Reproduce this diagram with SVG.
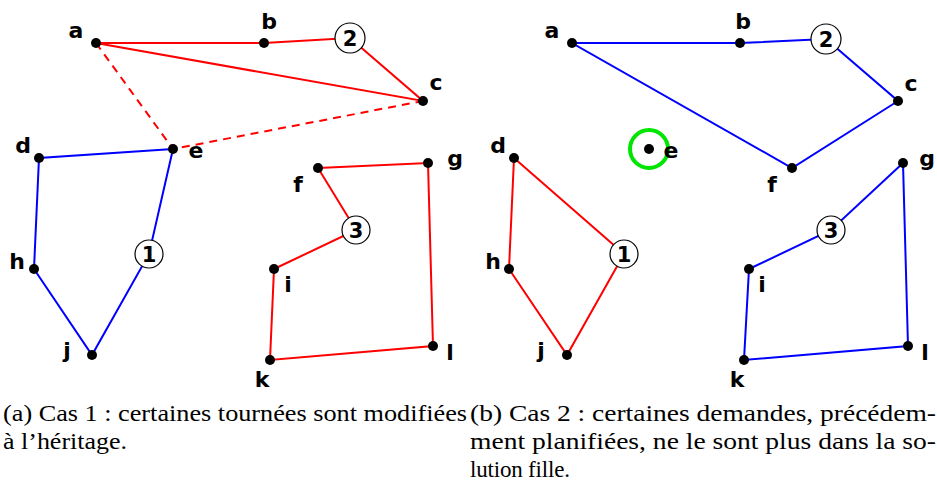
<svg xmlns="http://www.w3.org/2000/svg" width="937" height="488" viewBox="0 0 937 488">
<style>
.r{stroke:#ff0000;stroke-width:2;fill:none}
.b{stroke:#0000ff;stroke-width:2;fill:none}
.d{stroke-dasharray:8 6}
.dot{fill:#000}
.lb{font-family:"DejaVu Sans",sans-serif;font-weight:bold;font-size:22px;fill:#000;text-anchor:middle}
.num circle{fill:#fff;stroke:#000;stroke-width:1.2}
.num text{font-family:"DejaVu Sans",sans-serif;font-weight:bold;font-size:21px;fill:#000;text-anchor:middle}
.cap{font-family:"Liberation Serif","Times New Roman",serif;font-size:23px;fill:#000}
</style>
<rect width="937" height="488" fill="#fff"/>
<g id="connectors">
<polyline class="r" points="96,43 264,43 350,38 423,101 96,43"/>
<polyline class="r d" points="96,43 173,149 423,101"/>
<polyline class="b" points="173,149 39,158 34,269 92,355 149,254 173,149"/>
<polygon class="r" points="318,168 428,163 433,346 270,360 274,269 356,230"/>
<polygon class="b" points="572,43 740,43 826,39 898,101 792,168"/>
<polygon class="r" points="514,158 624,254 567,355 509,269"/>
<polygon class="b" points="903,163 831,230 749,269 744,360 908,346"/>
</g>
<g id="left-a"><circle class="dot" cx="96" cy="43" r="5"/><text class="lb" x="76" y="38">a</text></g>
<g id="left-b"><circle class="dot" cx="264" cy="43" r="5"/><text class="lb" x="269" y="29">b</text></g>
<g id="left-c"><circle class="dot" cx="423" cy="101" r="5"/><text class="lb" x="436" y="90">c</text></g>
<g id="left-d"><circle class="dot" cx="39" cy="158" r="5"/><text class="lb" x="23" y="153">d</text></g>
<g id="left-e"><circle class="dot" cx="173" cy="149" r="5"/><text class="lb" x="196" y="158">e</text></g>
<g id="left-f"><circle class="dot" cx="318" cy="168" r="5"/><text class="lb" x="298" y="192">f</text></g>
<g id="left-g"><circle class="dot" cx="428" cy="163" r="5"/><text class="lb" x="455" y="166">g</text></g>
<g id="left-h"><circle class="dot" cx="34" cy="269" r="5"/><text class="lb" x="17" y="269">h</text></g>
<g id="left-i"><circle class="dot" cx="274" cy="269" r="5"/><text class="lb" x="288" y="292">i</text></g>
<g id="left-j"><circle class="dot" cx="92" cy="355" r="5"/><text class="lb" x="67" y="358">j</text></g>
<g id="left-k"><circle class="dot" cx="270" cy="360" r="5"/><text class="lb" x="262" y="387">k</text></g>
<g id="left-l"><circle class="dot" cx="433" cy="346" r="5"/><text class="lb" x="450" y="360">l</text></g>
<g id="left-2" class="num"><circle cx="350" cy="38" r="15"/><text x="350" y="46">2</text></g>
<g id="left-1" class="num"><circle cx="149" cy="254" r="14"/><text x="149" y="262">1</text></g>
<g id="left-3" class="num"><circle cx="356" cy="230" r="14"/><text x="356" y="238">3</text></g>

<g id="right-a"><circle class="dot" cx="572" cy="43" r="5"/><text class="lb" x="552" y="38">a</text></g>
<g id="right-b"><circle class="dot" cx="740" cy="43" r="5"/><text class="lb" x="743" y="29">b</text></g>
<g id="right-c"><circle class="dot" cx="898" cy="101" r="5"/><text class="lb" x="911" y="91">c</text></g>
<g id="right-d"><circle class="dot" cx="514" cy="158" r="5"/><text class="lb" x="498" y="153">d</text></g>
<g id="right-e"><circle cx="649" cy="149" r="19" fill="none" stroke="#00e600" stroke-width="4"/><circle class="dot" cx="649" cy="149" r="5"/><text class="lb" x="671" y="158">e</text></g>
<g id="right-f"><circle class="dot" cx="792" cy="168" r="5"/><text class="lb" x="772" y="192">f</text></g>
<g id="right-g"><circle class="dot" cx="903" cy="163" r="5"/><text class="lb" x="927" y="166">g</text></g>
<g id="right-h"><circle class="dot" cx="509" cy="269" r="5"/><text class="lb" x="493" y="269">h</text></g>
<g id="right-i"><circle class="dot" cx="749" cy="269" r="5"/><text class="lb" x="762" y="292">i</text></g>
<g id="right-j"><circle class="dot" cx="567" cy="355" r="5"/><text class="lb" x="541" y="358">j</text></g>
<g id="right-k"><circle class="dot" cx="744" cy="360" r="5"/><text class="lb" x="737" y="387">k</text></g>
<g id="right-l"><circle class="dot" cx="908" cy="346" r="5"/><text class="lb" x="925" y="360">l</text></g>
<g id="right-2" class="num"><circle cx="826" cy="39" r="15"/><text x="826" y="47">2</text></g>
<g id="right-1" class="num"><circle cx="624" cy="254" r="14"/><text x="624" y="262">1</text></g>
<g id="right-3" class="num"><circle cx="831" cy="230" r="14"/><text x="831" y="238">3</text></g>

<g id="captions">
<text class="cap" x="3" y="421" textLength="464" lengthAdjust="spacingAndGlyphs">(a) Cas 1 : certaines tournées sont modifiées</text>
<text class="cap" x="3" y="449" textLength="124" lengthAdjust="spacingAndGlyphs">à l’héritage.</text>
<text class="cap" x="470" y="421" textLength="466" lengthAdjust="spacingAndGlyphs">(b) Cas 2 : certaines demandes, précédem-</text>
<text class="cap" x="470" y="449" textLength="466" lengthAdjust="spacingAndGlyphs">ment planifiées, ne le sont plus dans la so-</text>
<text class="cap" x="470" y="477" textLength="100" lengthAdjust="spacing">lution fille.</text>
</g>
</svg>
